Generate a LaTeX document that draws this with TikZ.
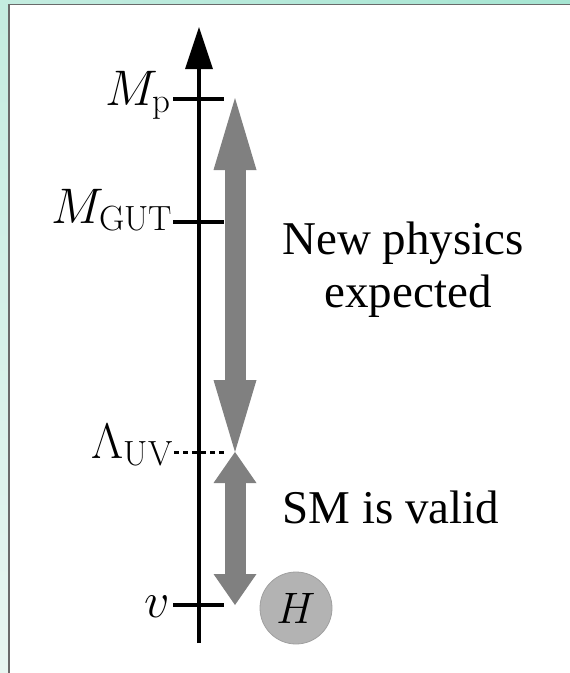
\RequirePackage{fix-cm}
\documentclass[tikz,border=0pt]{standalone}
\usepackage{fontspec}
\newfontfamily\txtfont{Liberation Serif}
\usetikzlibrary{arrows.meta}
\definecolor{bgtop}{HTML}{C4ECE0}
\definecolor{bgbot}{HTML}{E8F6F1}
\definecolor{bgright}{HTML}{A6E5D2}
\definecolor{arrgray}{HTML}{808080}
\definecolor{hfill}{HTML}{B3B3B3}
\definecolor{hdraw}{HTML}{A0A0A0}
\definecolor{frame}{HTML}{6A6A6A}
\begin{document}
\begin{tikzpicture}[x=1pt,y=-1pt,
  axisline/.style={line width=4pt},
  tickmark/.style={line width=4pt},
  band/.style={draw=arrgray, line width=21pt},
  mathlbl/.style={anchor=base east, inner sep=0pt, font=\fontsize{50}{56}\selectfont},
  txt/.style={anchor=base, inner sep=0pt, font=\txtfont\fontsize{47}{53}\selectfont}
]
\useasboundingbox (0,0) rectangle (570,673);
\shade[top color=bgtop, bottom color=bgbot] (0,0) rectangle (570,673);
\shade[left color=bgtop, right color=bgright] (0,0) rectangle (570,5);
\fill[white] (9,4.5) rectangle (572,675);
\draw[line width=1.5pt, frame] (9,675) -- (9,4.5) -- (572,4.5);

% axis
\coordinate (axbot) at (199,643);
\coordinate (axtop) at (199,27);
\draw[axisline, -{Triangle[length=42pt,width=28pt,line width=0pt]}] (axbot) -- (axtop);

% ticks
\coordinate (mpL) at (173,99);   \coordinate (mpR) at (224,99);
\coordinate (gutL) at (173,222); \coordinate (gutR) at (224,222);
\coordinate (vL) at (173,605);   \coordinate (vR) at (224,605);
\coordinate (lamL) at (174,452); \coordinate (lamR) at (227,452);
\draw[tickmark] (mpL) -- (mpR);
\draw[tickmark] (gutL) -- (gutR);
\draw[tickmark] (vL) -- (vR);
\draw[line width=3pt, dash pattern=on 5pt off 4pt] (lamL) -- (lamR);

% gray double arrows
\coordinate (upTop) at (235,98);
\coordinate (mid) at (235,452);
\coordinate (loBot) at (235,605);
\draw[band, {Triangle[length=72pt,width=43pt,line width=0pt]}-{Triangle[length=72pt,width=43pt,line width=0pt]}] (upTop) -- (mid);
\draw[band, {Triangle[length=31pt,width=43pt,line width=0pt]}-{Triangle[length=31pt,width=43pt,line width=0pt]}] (mid) -- (loBot);

% Higgs
\node[circle, fill=hfill, draw=hdraw, line width=0.8pt, minimum size=72pt, inner sep=0pt,
      font=\fontsize{44}{50}\selectfont] (H) at (296,608) {$H$};

% labels
\node[mathlbl] (mp) at (171,105) {$M_{\mathrm{p}}$};
\node[mathlbl] (mgut) at (173,223) {$M_{\mathrm{GUT}}$};
\node[mathlbl] (lam) at (173,458) {$\Lambda_{\mathrm{UV}}$};
\node[mathlbl] (v) at (170,617) {$v$};

% texts
\node[txt] (np1) at (403,254) {New physics};
\node[txt] (np2) at (408,307) {expected};
\node[txt] (sm) at (391,523) {SM is valid};
\end{tikzpicture}
\end{document}
